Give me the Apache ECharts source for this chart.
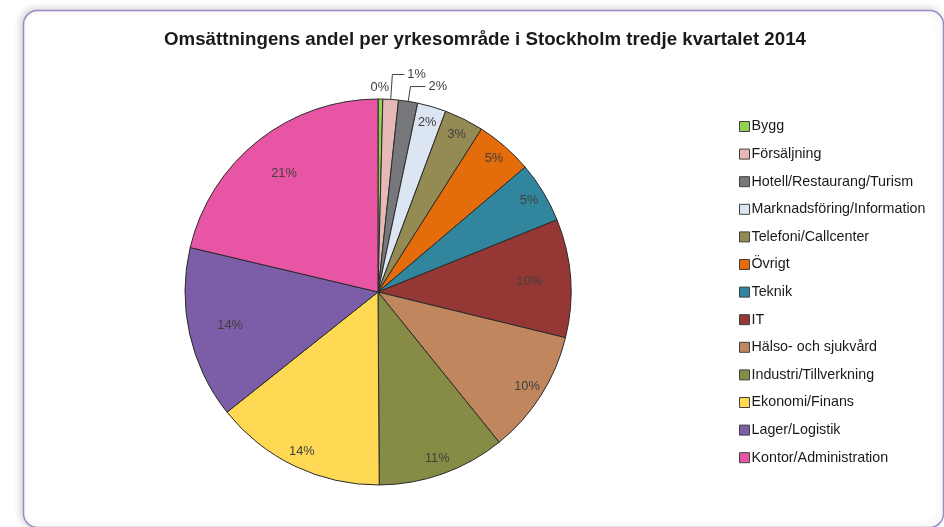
<!DOCTYPE html>
<html>
<head>
<meta charset="utf-8">
<script src="https://cdn.jsdelivr.net/npm/echarts@6/dist/echarts.min.js"></script>
<style>
  html, body { margin: 0; padding: 0; background: #fff; }
  #chart { width: 944px; height: 527px; }
</style>
</head>
<body>
<div id="chart"></div>
<script>
// yrkesområden, medurs från kl 12
const categories = [
  'Bygg', 'Försäljning', 'Hotell/Restaurang/Turism', 'Marknadsföring/Information',
  'Telefoni/Callcenter', 'Övrigt', 'Teknik', 'IT', 'Hälso- och sjukvård',
  'Industri/Tillverkning', 'Ekonomi/Finans', 'Lager/Logistik', 'Kontor/Administration'
]
// andel i procent
const shares = [0.4, 1.3, 1.6, 2.4, 3.3, 4.8, 5.1, 9.9, 10.4, 10.7, 14.4, 14.4, 21.3]
const colors = [
  '#92D050', '#E6B9B8', '#77787B', '#DCE6F2', '#948A54', '#E46C0A', '#31859C',
  '#953735', '#C0875F', '#868C45', '#FFD954', '#7B5EA7', '#E855A4'
]
// vilka etiketter som ligger utanför / långt ut / närmare mitten
const outerLabels = [0, 1, 2]
const innerLabels = [7, 11, 12]

const chart = echarts.init(document.getElementById('chart'))

const cx = 378
const cy = 292
const R = 193
const txt = '#404040'
const font = 'Liberation Sans'

const pct = (p) => Math.round(p.percent) + '%'

// ledarlinjer för de små tårtbitarna
const outerStyle = {
  0: { label: { offset: [-13, -5] }, labelLine: { show: false, length: 7, length2: 0 } },
  1: { labelLine: { length: 25, length2: 12 } },
  2: { labelLine: { length: 15, length2: 15 } }
}

const mainData = categories.map((name, i) => {
  const extra = outerStyle[i] || {}
  return {
    name,
    value: shares[i],
    itemStyle: { color: colors[i] },
    label: Object.assign({ show: outerLabels.includes(i) }, extra.label),
    labelLine: Object.assign({ show: outerLabels.includes(i) }, extra.labelLine)
  }
})

function overlay(list) {
  return categories.map((name, i) => ({
    name,
    value: shares[i],
    label: { show: list(i) }
  }))
}

const option = {
  animation: false,
  title: {
    text: 'Omsättningens andel per yrkesområde i Stockholm tredje kvartalet 2014',
    left: 480,
    textAlign: 'center',
    top: 25,
    textStyle: { fontFamily: font, fontSize: 18.7, fontWeight: 'bold', color: '#1a1a1a' }
  },
  legend: {
    orient: 'vertical',
    left: 739,
    top: 119,
    padding: 0,
    itemWidth: 10,
    itemHeight: 10,
    itemGap: 12.6,
    icon: 'rect',
    selectedMode: false,
    data: categories,
    itemStyle: { borderColor: '#404040', borderWidth: 1 },
    textStyle: { fontFamily: font, fontSize: 14.3, lineHeight: 15, color: '#1a1a1a', padding: [0, 0, 0, -3] }
  },
  graphic: [{
    type: 'rect',
    shape: { x: 23.5, y: 10.5, width: 920, height: 517, r: 14 },
    style: {
      fill: '#fff', stroke: '#9F88C9', lineWidth: 1.5,
      shadowColor: 'rgba(0,0,0,0.18)', shadowBlur: 8, shadowOffsetX: -2, shadowOffsetY: -1
    },
    z: -10,
    silent: true
  }],
  series: [
    {
      type: 'pie',
      center: [cx, cy],
      radius: R,
      startAngle: 90,
      clockwise: true,
      avoidLabelOverlap: false,
      labelLayout: { hideOverlap: false },
      silent: true,
      itemStyle: { borderColor: '#2b2b2b', borderWidth: 1 },
      label: {
        position: 'outside',
        formatter: pct,
        fontFamily: font,
        fontSize: 12.8,
        color: txt,
        distanceToLabelLine: 3
      },
      labelLine: {
        length: 22,
        length2: 7,
        lineStyle: { color: '#404040', width: 1 }
      },
      data: mainData
    },
    {
      // ring för etiketter långt ut
      type: 'pie',
      center: [cx, cy],
      radius: [154, R],
      startAngle: 90,
      silent: true,
      itemStyle: { color: 'rgba(0,0,0,0)' },
      label: { position: 'inside', formatter: pct, fontFamily: font, fontSize: 12.8, color: txt },
      labelLine: { show: false },
      data: overlay((i) => !outerLabels.includes(i) && !innerLabels.includes(i))
    },
    {
      // ring för etiketter närmare mitten
      type: 'pie',
      center: [cx, cy],
      radius: [104, R],
      startAngle: 90,
      silent: true,
      itemStyle: { color: 'rgba(0,0,0,0)' },
      label: { position: 'inside', formatter: pct, fontFamily: font, fontSize: 12.8, color: txt },
      labelLine: { show: false },
      data: overlay((i) => innerLabels.includes(i))
    }
  ]
}

chart.setOption(option)
</script>
</body>
</html>
